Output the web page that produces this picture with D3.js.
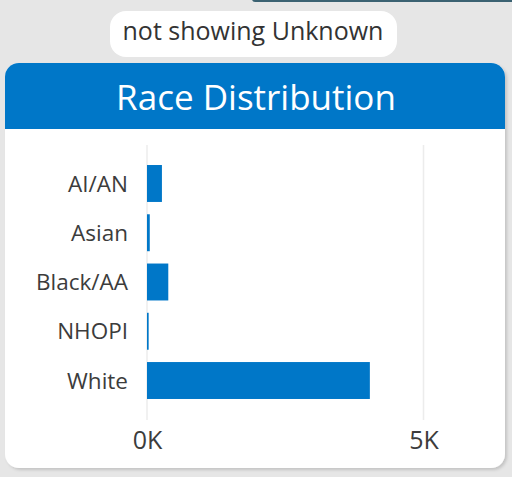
<!DOCTYPE html>
<html>
<head>
<meta charset="utf-8">
<script src="https://cdn.jsdelivr.net/npm/d3@7"></script>
<style>
  body { margin: 0; background: #e6e6e6; }
  svg { display: block; font-family: "Open Sans", sans-serif; }
</style>
</head>
<body>
<div id="chart"></div>
<script>
// Data
const categories = ["AI/AN", "Asian", "Black/AA", "NHOPI", "White"];
const counts = [270, 50, 385, 30, 4030];
const tickValues = [0, 5000];
const tickLabels = ["0K", "5K"];

const width = 512, height = 477;
const blue = "#0077c8";

const svg = d3.select("#chart").append("svg")
    .attr("width", width)
    .attr("height", height);

// top strip of the page behind
svg.append("rect")
    .attr("x", 252).attr("y", -6)
    .attr("width", 270).attr("height", 8)
    .attr("rx", 3)
    .attr("fill", "#3b6272");

// note pill
svg.append("rect")
    .attr("x", 110).attr("y", 11)
    .attr("width", 287).attr("height", 46)
    .attr("rx", 16)
    .attr("fill", "#fff");
svg.append("text")
    .attr("x", 253).attr("y", 40)
    .attr("text-anchor", "middle")
    .style("font-size", "25px")
    .attr("fill", "#333")
    .text("not showing Unknown");

// card with shadow
const defs = svg.append("defs");
const f = defs.append("filter").attr("id", "shadow")
    .attr("x", "-5%").attr("y", "-5%").attr("width", "110%").attr("height", "110%");
f.append("feDropShadow")
    .attr("dx", 2).attr("dy", 2).attr("stdDeviation", 1.5)
    .attr("flood-color", "#000").attr("flood-opacity", 0.15);

svg.append("rect")
    .attr("x", 5).attr("y", 63)
    .attr("width", 500).attr("height", 405)
    .attr("rx", 14)
    .attr("fill", "#fff")
    .attr("filter", "url(#shadow)");

// header
defs.append("clipPath").attr("id", "hdr")
    .append("rect").attr("x", 5).attr("y", 63).attr("width", 500).attr("height", 66);
svg.append("rect")
    .attr("x", 5).attr("y", 63)
    .attr("width", 500).attr("height", 90)
    .attr("rx", 14)
    .attr("fill", blue)
    .attr("clip-path", "url(#hdr)");
svg.append("text")
    .attr("x", 256).attr("y", 110)
    .attr("text-anchor", "middle")
    .style("font-size", "35px")
    .attr("fill", "#fff")
    .text("Race Distribution");

// scales
const x = d3.scaleLinear()
    .domain([0, 5000])
    .range([147, 423.5]);

const y = d3.scaleBand()
    .domain(categories)
    .range([152.7, 411.3])
    .paddingInner(0.25)
    .paddingOuter(0.25);

// gridlines
svg.append("g")
    .selectAll("line")
    .data(tickValues)
    .join("line")
    .attr("x1", d => x(d)).attr("x2", d => x(d))
    .attr("y1", 145).attr("y2", 420)
    .attr("stroke", "#ececec")
    .attr("stroke-width", 1.5);

// bars
svg.append("g")
    .selectAll("rect")
    .data(counts)
    .join("rect")
    .attr("x", x(0))
    .attr("y", (d, i) => y(categories[i]))
    .attr("width", d => x(d) - x(0))
    .attr("height", y.bandwidth())
    .attr("fill", blue);

// category axis
const yAxis = d3.axisLeft(y).tickSize(0).tickPadding(0);
svg.append("g")
    .attr("transform", "translate(128,1)")
    .call(yAxis)
    .call(g => g.select(".domain").remove())
    .selectAll("text")
    .style("font-size", "22.5px")
    .style("font-family", "Open Sans")
    .attr("fill", "#3c3c3c");

// value axis
const xAxis = d3.axisBottom(x)
    .tickValues(tickValues)
    .tickFormat((d, i) => tickLabels[i])
    .tickSize(0).tickPadding(0);
svg.append("g")
    .attr("transform", "translate(0,431)")
    .call(xAxis)
    .call(g => g.select(".domain").remove())
    .selectAll("text")
    .attr("dy", "0.71em")
    .style("font-size", "25px")
    .style("font-family", "Open Sans")
    .attr("fill", "#3c3c3c");
</script>
</body>
</html>
